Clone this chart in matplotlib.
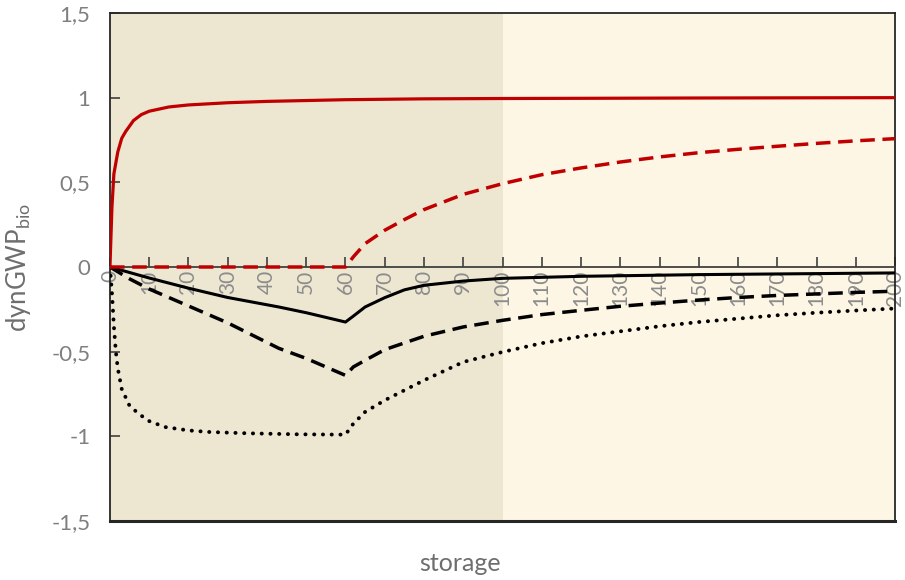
import matplotlib
matplotlib.use('Agg')
import matplotlib.pyplot as plt

plt.rcParams['font.family'] = ['Lato', 'DejaVu Sans']

# storage period (years) and dynamic GWP values of the biogenic carbon
x_red_solid = [0, 0.5, 1, 2, 3, 4, 6, 8, 10, 15, 20, 30, 40, 60, 80, 100, 150, 200]
red_solid = [0, 0.35, 0.55, 0.68, 0.76, 0.80, 0.865, 0.90, 0.92, 0.945, 0.957,
             0.97, 0.978, 0.988, 0.993, 0.995, 0.998, 1.0]

x_red_dashed = [0, 60, 62, 65, 70, 75, 80, 90, 100, 110, 120, 130, 140, 150,
                160, 170, 180, 190, 200]
red_dashed = [0, 0, 0.06, 0.138, 0.217, 0.28, 0.339, 0.429, 0.492, 0.545, 0.585,
              0.62, 0.65, 0.675, 0.695, 0.713, 0.73, 0.745, 0.758]

x_black_solid = [0, 10, 20, 30, 43, 50, 60, 62, 65, 70, 75, 80, 90, 100, 120, 150, 200]
black_solid = [0, -0.065, -0.125, -0.18, -0.236, -0.27, -0.325, -0.29, -0.236,
               -0.181, -0.135, -0.108, -0.083, -0.067, -0.055, -0.045, -0.035]

x_black_dashed = [0, 5, 10, 20, 30, 43, 50, 60, 62, 65, 70, 80, 90, 100, 110,
                  120, 130, 140, 150, 160, 170, 180, 190, 200]
black_dashed = [0, -0.07, -0.13, -0.23, -0.33, -0.48, -0.54, -0.64, -0.59, -0.551,
                -0.488, -0.409, -0.354, -0.315, -0.281, -0.256, -0.232, -0.213,
                -0.195, -0.18, -0.168, -0.159, -0.15, -0.143]

x_black_dotted = [0, 0.5, 1, 1.5, 2, 3, 5, 7.5, 10, 14, 20, 25, 35, 48, 60, 62, 65,
                  70, 80, 90, 100, 110, 120, 130, 140, 150, 160, 170, 180, 190, 200]
black_dotted = [0, -0.15, -0.35, -0.5, -0.6, -0.72, -0.82, -0.87, -0.91, -0.945,
                -0.965, -0.974, -0.982, -0.988, -0.99, -0.925, -0.856, -0.787,
                -0.669, -0.561, -0.502, -0.45, -0.41, -0.38, -0.35, -0.325,
                -0.305, -0.285, -0.27, -0.257, -0.245]

x_ticks = list(range(0, 201, 10))
y_ticks = [-1.5, -1, -0.5, 0, 0.5, 1, 1.5]
y_tick_labels = ['-1,5', '-1', '-0,5', '0', '0,5', '1', '1,5']

fig = plt.figure(figsize=(9.05, 5.8), dpi=100)
ax = fig.add_axes([0.1215, 0.1017, 0.8675, 0.8759])

# shaded periods
ax.axvspan(0, 100, color='#EDE7D2', lw=0, zorder=0)
ax.axvspan(100, 200, color='#FDF6E4', lw=0, zorder=0)

ax.plot(x_black_solid, black_solid, color='black', lw=2.2, zorder=3)
ax.plot(x_black_dashed, black_dashed, color='black', lw=2.5,
        linestyle=(0, (4.2, 2.2)), zorder=3)
ax.plot(x_black_dotted, black_dotted, color='black', lw=2.8,
        linestyle=(0, (0.05, 2.2)), dash_capstyle='round', zorder=3)
ax.plot(x_red_solid, red_solid, color='#C00000', lw=2.3, zorder=4)
ax.plot(x_red_dashed, red_dashed, color='#C00000', lw=2.5,
        linestyle=(0, (4.2, 2.2)), zorder=4)

ax.set_xlim(0, 200)
ax.set_ylim(-1.5, 1.5)

# x axis sits on the zero line, the frame is closed at the bottom separately
ax.spines['bottom'].set_position(('data', 0))
ax.spines['bottom'].set_color('#404040')
ax.spines['bottom'].set_linewidth(1.3)
for side in ['left', 'right', 'top']:
    ax.spines[side].set_color('#262626')
    ax.spines[side].set_linewidth(1.3)
ax.axhline(-1.5, color='#262626', lw=2.2, clip_on=False, zorder=5)

ax.set_xticks(x_ticks)
ax.set_xticklabels([str(v) for v in x_ticks], rotation=90, va='top', ha='center')
ax.set_yticks(y_ticks)
ax.set_yticklabels(y_tick_labels)
ax.tick_params(axis='x', direction='in', length=7, width=1.2, color='#404040',
               labelsize=15, labelcolor='#8C8C8C', pad=2)
ax.tick_params(axis='y', direction='in', length=7, width=1.2, color='#404040',
               labelsize=16, labelcolor='#7F7F7F', pad=14)

ax.set_ylabel('dynGWP$_{\\mathregular{bio}}$', fontsize=18.5, color='#6E6E6E')
ax.yaxis.set_label_coords(-0.098, 0.5)
fig.text(0.508, 0.016, 'storage', fontsize=18, color='#6E6E6E', ha='center')

fig.savefig('out.png', dpi=100)
